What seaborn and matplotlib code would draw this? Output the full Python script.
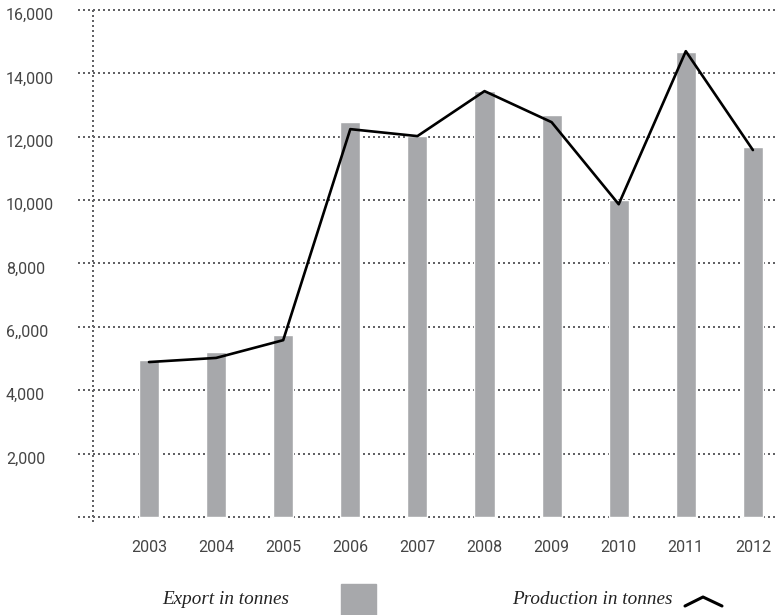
import numpy as np
import pandas as pd
import matplotlib
matplotlib.use("Agg")
import matplotlib.pyplot as plt
from matplotlib.lines import Line2D
from matplotlib.patches import Rectangle
from matplotlib.transforms import ScaledTranslation
import seaborn as sns

years = ["2003", "2004", "2005", "2006", "2007", "2008", "2009", "2010", "2011", "2012"]
export_tonnes = [4950, 5200, 5740, 12450, 12030, 13440, 12680, 10000, 14670, 11670]
production_tonnes = [4890, 5020, 5580, 12240, 12020, 13440, 12460, 9870, 14700, 11580]
y_ticks = [2000, 4000, 6000, 8000, 10000, 12000, 14000, 16000]
y_tick_labels = ["2,000", "4,000", "6,,000", "8,000", "10,000", "12,000", "14,000", "16,000"]

sns.set_theme(style="white")
plt.rcParams["font.family"] = ["Roboto", "DejaVu Sans"]

W, H = 778, 615
fig = plt.figure(figsize=(W / 100, H / 100), dpi=100)
ax = fig.add_axes([78 / W, (H - 522) / H, 700 / W, 514 / H])

df = pd.DataFrame({"year": years, "export": export_tonnes, "production": production_tonnes})

bar_color = "#a7a8ab"
dot_color = "#626265"
dotted = (0, (1, 1.5))
dot_lw = 1.44  # points, i.e. 2 px dots every 5 px

# horizontal dotted guides, drawn beneath the bars
for v in [0] + y_ticks:
    ax.axhline(v, color=dot_color, lw=dot_lw, linestyle=dotted, zorder=0)

sns.barplot(data=df, x="year", y="export", color=bar_color, width=0.3,
            saturation=1, ax=ax, zorder=2)
sns.lineplot(x=np.arange(len(years)), y=df["production"], color="black",
             lw=1.9, ax=ax, zorder=3)

ax.set_xlim(-1.058, 9.374)
ax.set_ylim(-158, 16063)

# dotted vertical axis
ax.axvline(-0.835, color=dot_color, lw=dot_lw, linestyle=dotted, zorder=1)

for s in ax.spines.values():
    s.set_visible(False)
ax.grid(False)
ax.set_xlabel("")
ax.set_ylabel("")

tick_color = "#454545"
ax.set_yticks(y_ticks)
ax.set_yticklabels(y_tick_labels)
ax.tick_params(axis="y", length=0, pad=52, labelsize=11.5, labelcolor=tick_color)
for lab in ax.get_yticklabels():
    lab.set_horizontalalignment("left")
    lab.set_transform(lab.get_transform() + ScaledTranslation(0, -4 / 100, fig.dpi_scale_trans))

ax.set_xticks(range(len(years)))
ax.set_xticklabels(years)
ax.tick_params(axis="x", length=0, pad=13, labelsize=11.5, labelcolor=tick_color)

# legend
serif = ["Liberation Serif", "DejaVu Serif"]
fig.text(162 / W, 1 - 600 / H, "Export in tonnes", family=serif, style="italic",
         fontsize=13.8, color="#222222", ha="left", va="center")
fig.patches.append(Rectangle((341 / W, 1 - 615 / H), 35 / W, 31 / H,
                             transform=fig.transFigure, color=bar_color))
fig.text(512 / W, 1 - 600 / H, "Production in tonnes", family=serif, style="italic",
         fontsize=13.8, color="#222222", ha="left", va="center")
fig.lines.append(Line2D([685 / W, 703 / W, 722 / W],
                        [1 - 606 / H, 1 - 597 / H, 1 - 606 / H],
                        transform=fig.transFigure, color="black", lw=2.2))

fig.savefig("out.png", dpi=100)
